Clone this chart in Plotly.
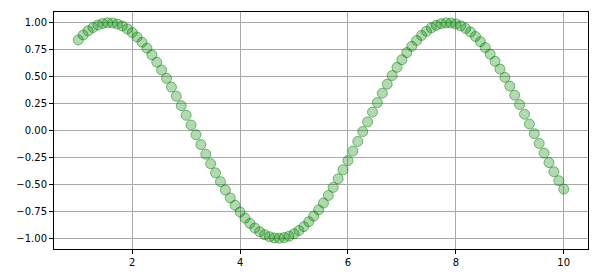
import plotly.graph_objects as go

x_vals = [
    1.000, 1.091, 1.182, 1.273, 1.364, 1.455, 1.545, 1.636, 1.727, 1.818, 1.909,
    2.000, 2.091, 2.182, 2.273, 2.364, 2.455, 2.545, 2.636, 2.727, 2.818, 2.909,
    3.000, 3.091, 3.182, 3.273, 3.364, 3.455, 3.545, 3.636, 3.727, 3.818, 3.909,
    4.000, 4.091, 4.182, 4.273, 4.364, 4.455, 4.545, 4.636, 4.727, 4.818, 4.909,
    5.000, 5.091, 5.182, 5.273, 5.364, 5.455, 5.545, 5.636, 5.727, 5.818, 5.909,
    6.000, 6.091, 6.182, 6.273, 6.364, 6.455, 6.545, 6.636, 6.727, 6.818, 6.909,
    7.000, 7.091, 7.182, 7.273, 7.364, 7.455, 7.545, 7.636, 7.727, 7.818, 7.909,
    8.000, 8.091, 8.182, 8.273, 8.364, 8.455, 8.545, 8.636, 8.727, 8.818, 8.909,
    9.000, 9.091, 9.182, 9.273, 9.364, 9.455, 9.545, 9.636, 9.727, 9.818, 9.909,
    10.000,
]

y_vals = [
    0.841, 0.887, 0.925, 0.956, 0.979, 0.993, 1.000, 0.998, 0.988, 0.970, 0.943,
    0.909, 0.868, 0.819, 0.764, 0.702, 0.634, 0.561, 0.484, 0.403, 0.318, 0.230,
    0.141, 0.051, -0.040, -0.131, -0.220, -0.308, -0.393, -0.475, -0.553, -0.626, -0.694,
    -0.757, -0.813, -0.863, -0.905, -0.940, -0.967, -0.986, -0.997, -1.000, -0.994, -0.981,
    -0.959, -0.929, -0.892, -0.847, -0.795, -0.737, -0.673, -0.603, -0.528, -0.448, -0.365,
    -0.279, -0.191, -0.101, -0.010, 0.080, 0.171, 0.259, 0.346, 0.430, 0.510, 0.586,
    0.657, 0.723, 0.782, 0.836, 0.882, 0.921, 0.953, 0.976, 0.992, 0.999, 0.998,
    0.989, 0.972, 0.947, 0.914, 0.873, 0.825, 0.770, 0.709, 0.642, 0.570, 0.493,
    0.412, 0.328, 0.241, 0.151, 0.061, -0.030, -0.120, -0.210, -0.298, -0.383, -0.466,
    -0.544,
]

x_ticks = [2, 4, 6, 8, 10]
y_ticks = [-1.00, -0.75, -0.50, -0.25, 0.00, 0.25, 0.50, 0.75, 1.00]

fig = go.Figure(
    go.Scatter(
        x=x_vals,
        y=y_vals,
        mode="markers",
        marker=dict(
            size=10,
            color="rgba(0,128,0,0.3)",
            line=dict(color="rgba(0,128,0,0.5)", width=1),
        ),
        showlegend=False,
    )
)

axis_common = dict(
    showline=True,
    linecolor="black",
    linewidth=1,
    mirror=True,
    showgrid=True,
    gridcolor="#a8a8a8",
    gridwidth=1,
    zeroline=False,
    ticks="outside",
    ticklen=4,
    tickwidth=1,
    tickcolor="black",
    tickfont=dict(family="DejaVu Sans", size=10, color="black"),
)

fig.update_xaxes(range=[0.55, 10.45], tickvals=x_ticks,
                 ticktext=[str(v) for v in x_ticks], **axis_common)
fig.update_yaxes(range=[-1.1, 1.1], tickvals=y_ticks,
                 ticktext=[f"{v:.2f}".replace("-", "\u2212") for v in y_ticks],
                 **axis_common)

fig.update_layout(
    width=600,
    height=280,
    margin=dict(l=54, r=12, t=12, b=31),
    paper_bgcolor="white",
    plot_bgcolor="white",
)

fig.write_html("out.html")
